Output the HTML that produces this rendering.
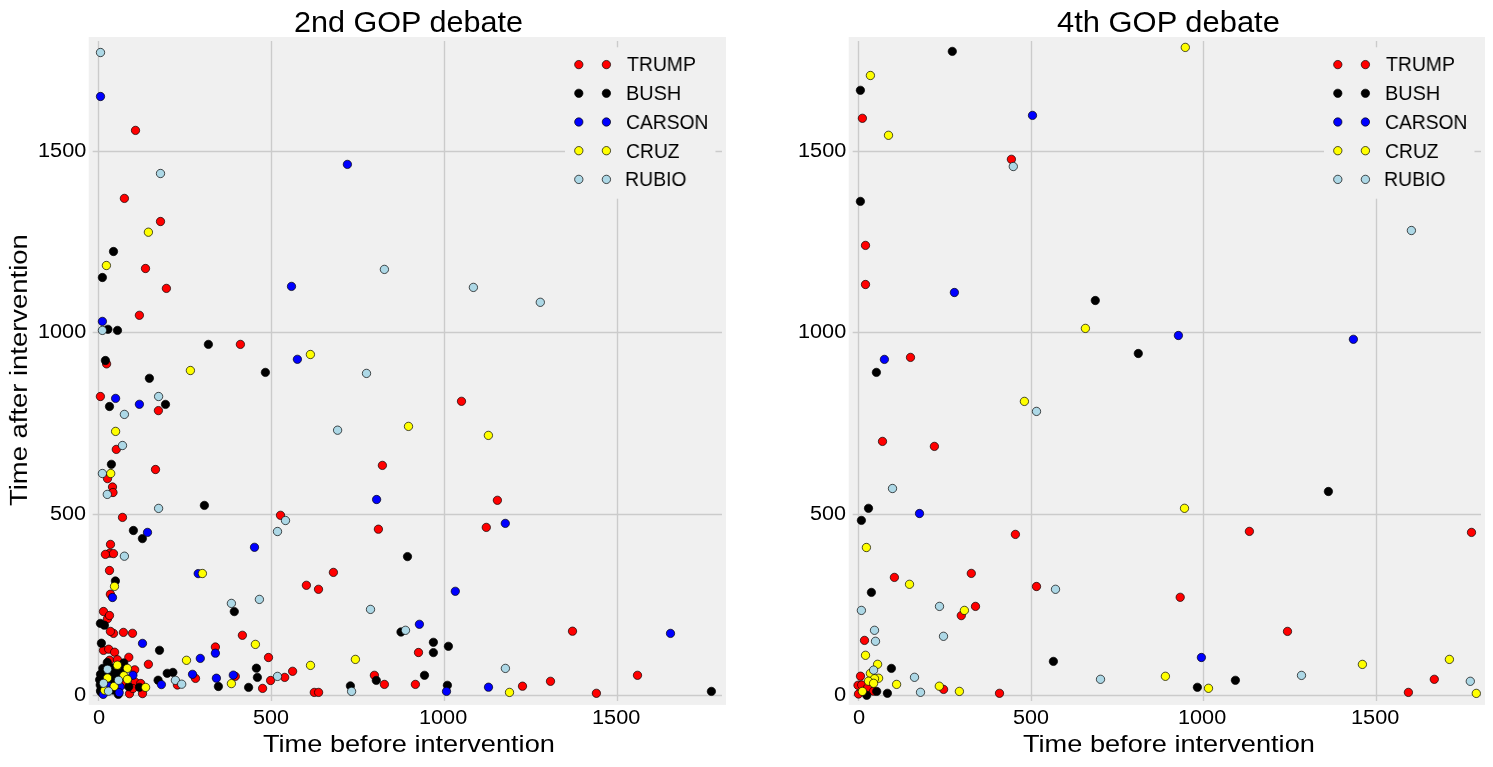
<!DOCTYPE html>
<html lang="en"><head><meta charset="utf-8"><title>GOP debates</title>
<style>
html,body{margin:0;padding:0;background:#fff;}
body{width:1493px;height:767px;position:relative;overflow:hidden;font-family:"Liberation Sans",sans-serif;color:#000;}
.t{position:absolute;white-space:nowrap;line-height:1;margin:0;padding:0;transform-origin:0 0;will-change:transform;}
</style></head><body>
<svg width="1493" height="767" viewBox="0 0 1493 767" style="position:absolute;left:0;top:0">
<rect x="88.7" y="37.0" width="637.3" height="667.9" fill="#f0f0f0"/>
<g stroke="#cbcbcb" stroke-width="1.39" fill="none">
<line x1="98.5" y1="41.0" x2="98.5" y2="700.9"/>
<line x1="271.5" y1="41.0" x2="271.5" y2="700.9"/>
<line x1="444.5" y1="41.0" x2="444.5" y2="700.9"/>
<line x1="617.5" y1="41.0" x2="617.5" y2="700.9"/>
<line x1="92.7" y1="695.5" x2="722" y2="695.5"/>
<line x1="92.7" y1="514.5" x2="722" y2="514.5"/>
<line x1="92.7" y1="332.5" x2="722" y2="332.5"/>
<line x1="92.7" y1="151.5" x2="722" y2="151.5"/>
</g>
<g fill="#ff0000" stroke="#000" stroke-width="0.69">
<circle cx="135.5" cy="130.4" r="4.17"/><circle cx="124.4" cy="198.4" r="4.17"/><circle cx="160.5" cy="221.5" r="4.17"/><circle cx="145.5" cy="268.5" r="4.17"/><circle cx="166.4" cy="288.4" r="4.17"/><circle cx="139.4" cy="315.3" r="4.17"/><circle cx="240.4" cy="344.4" r="4.17"/><circle cx="106.6" cy="363.9" r="4.17"/><circle cx="100.4" cy="396.5" r="4.17"/><circle cx="158.4" cy="410.6" r="4.17"/><circle cx="116.3" cy="449.4" r="4.17"/><circle cx="155.5" cy="469.5" r="4.17"/><circle cx="107.5" cy="478.6" r="4.17"/><circle cx="112.5" cy="487" r="4.17"/><circle cx="113" cy="492.5" r="4.17"/><circle cx="122.5" cy="517.4" r="4.17"/><circle cx="280.5" cy="515.3" r="4.17"/><circle cx="110.5" cy="544.4" r="4.17"/><circle cx="109.7" cy="553.2" r="4.17"/><circle cx="105.4" cy="554.4" r="4.17"/><circle cx="113.5" cy="553.6" r="4.17"/><circle cx="109.5" cy="570.5" r="4.17"/><circle cx="110.4" cy="594.2" r="4.17"/><circle cx="103.5" cy="611.5" r="4.17"/><circle cx="107.5" cy="618.8" r="4.17"/><circle cx="109.5" cy="615.5" r="4.17"/><circle cx="113.5" cy="633.4" r="4.17"/><circle cx="110.4" cy="631.4" r="4.17"/><circle cx="123.4" cy="632.4" r="4.17"/><circle cx="132.5" cy="633.3" r="4.17"/><circle cx="242.4" cy="635.3" r="4.17"/><circle cx="215.4" cy="647" r="4.17"/><circle cx="461.5" cy="401.3" r="4.17"/><circle cx="382.4" cy="465.4" r="4.17"/><circle cx="497.4" cy="500.3" r="4.17"/><circle cx="378.4" cy="529.2" r="4.17"/><circle cx="486.3" cy="527.4" r="4.17"/><circle cx="333.4" cy="572.4" r="4.17"/><circle cx="306.4" cy="585.3" r="4.17"/><circle cx="318.5" cy="589.3" r="4.17"/><circle cx="572.5" cy="631.2" r="4.17"/><circle cx="268.5" cy="657.5" r="4.17"/><circle cx="128.8" cy="657.3" r="4.17"/><circle cx="148.4" cy="664.3" r="4.17"/><circle cx="292.6" cy="671.3" r="4.17"/><circle cx="284.7" cy="677.4" r="4.17"/><circle cx="270.6" cy="680.5" r="4.17"/><circle cx="262.6" cy="688.4" r="4.17"/><circle cx="235.3" cy="676.4" r="4.17"/><circle cx="195.5" cy="678.4" r="4.17"/><circle cx="177.4" cy="685" r="4.17"/><circle cx="142.5" cy="693.6" r="4.17"/><circle cx="129.5" cy="693.7" r="4.17"/><circle cx="418.5" cy="652.5" r="4.17"/><circle cx="374.4" cy="675.3" r="4.17"/><circle cx="384.4" cy="684.4" r="4.17"/><circle cx="415.4" cy="684.4" r="4.17"/><circle cx="314.3" cy="692.4" r="4.17"/><circle cx="318.6" cy="692.4" r="4.17"/><circle cx="637.5" cy="675.3" r="4.17"/><circle cx="550.5" cy="681.3" r="4.17"/><circle cx="522.5" cy="686.2" r="4.17"/><circle cx="596.4" cy="693.3" r="4.17"/><circle cx="103.5" cy="650.4" r="4.17"/><circle cx="108.7" cy="649.2" r="4.17"/><circle cx="114.6" cy="652.2" r="4.17"/><circle cx="109.6" cy="660.2" r="4.17"/><circle cx="117.4" cy="659.7" r="4.17"/><circle cx="134.7" cy="669.8" r="4.17"/><circle cx="135.2" cy="682.1" r="4.17"/><circle cx="132.9" cy="688.5" r="4.17"/><circle cx="140.7" cy="683.5" r="4.17"/><circle cx="123.8" cy="684" r="4.17"/><circle cx="113.3" cy="673.4" r="4.17"/>
</g>
<g fill="#000000" stroke="#000" stroke-width="0.69">
<circle cx="113.5" cy="251.5" r="4.17"/><circle cx="102.4" cy="277.5" r="4.17"/><circle cx="107.9" cy="329.3" r="4.17"/><circle cx="117.5" cy="330.4" r="4.17"/><circle cx="208.4" cy="344.4" r="4.17"/><circle cx="105.4" cy="360.5" r="4.17"/><circle cx="265.4" cy="372.4" r="4.17"/><circle cx="149.4" cy="378.3" r="4.17"/><circle cx="109.5" cy="406.5" r="4.17"/><circle cx="165.5" cy="404.4" r="4.17"/><circle cx="111.4" cy="464.3" r="4.17"/><circle cx="204.4" cy="505.4" r="4.17"/><circle cx="133.4" cy="530.5" r="4.17"/><circle cx="142.4" cy="538.6" r="4.17"/><circle cx="115.4" cy="581" r="4.17"/><circle cx="234.3" cy="611.6" r="4.17"/><circle cx="100.4" cy="623.4" r="4.17"/><circle cx="104.4" cy="625.2" r="4.17"/><circle cx="101.4" cy="643.2" r="4.17"/><circle cx="159.5" cy="650.3" r="4.17"/><circle cx="256.4" cy="668.2" r="4.17"/><circle cx="257.4" cy="677.4" r="4.17"/><circle cx="248.6" cy="687.4" r="4.17"/><circle cx="218.4" cy="686.5" r="4.17"/><circle cx="167.2" cy="673.3" r="4.17"/><circle cx="172.9" cy="672.4" r="4.17"/><circle cx="158.1" cy="680.2" r="4.17"/><circle cx="139.4" cy="687.3" r="4.17"/><circle cx="407.5" cy="556.6" r="4.17"/><circle cx="401" cy="632" r="4.17"/><circle cx="433.4" cy="642.3" r="4.17"/><circle cx="448.4" cy="646.3" r="4.17"/><circle cx="433.4" cy="652.6" r="4.17"/><circle cx="376.3" cy="680.4" r="4.17"/><circle cx="424.5" cy="675.3" r="4.17"/><circle cx="350.4" cy="685.9" r="4.17"/><circle cx="447.4" cy="685.3" r="4.17"/><circle cx="711.4" cy="691.4" r="4.17"/><circle cx="107.3" cy="662.5" r="4.17"/><circle cx="123.8" cy="662.9" r="4.17"/><circle cx="102.8" cy="668.4" r="4.17"/><circle cx="100.5" cy="674.3" r="4.17"/><circle cx="118.3" cy="672.5" r="4.17"/><circle cx="99.6" cy="679.8" r="4.17"/><circle cx="128.8" cy="686.7" r="4.17"/><circle cx="118.3" cy="694.4" r="4.17"/><circle cx="100.5" cy="690.8" r="4.17"/><circle cx="101.9" cy="687.1" r="4.17"/><circle cx="111.9" cy="675.2" r="4.17"/><circle cx="104" cy="672" r="4.17"/><circle cx="108" cy="682" r="4.17"/><circle cx="113" cy="690" r="4.17"/><circle cx="112" cy="668" r="4.17"/><circle cx="100.2" cy="685" r="4.17"/><circle cx="101" cy="692" r="4.17"/><circle cx="113" cy="681" r="4.17"/><circle cx="122" cy="668.5" r="4.17"/><circle cx="110" cy="672" r="4.17"/><circle cx="116" cy="677" r="4.17"/>
</g>
<g fill="#0000ff" stroke="#000" stroke-width="0.69">
<circle cx="100.5" cy="96.5" r="4.17"/><circle cx="291.5" cy="286.4" r="4.17"/><circle cx="102.4" cy="321.4" r="4.17"/><circle cx="297.4" cy="359.3" r="4.17"/><circle cx="115.6" cy="398.4" r="4.17"/><circle cx="139.4" cy="404.3" r="4.17"/><circle cx="147.5" cy="532.4" r="4.17"/><circle cx="254.5" cy="547.3" r="4.17"/><circle cx="198.2" cy="573.6" r="4.17"/><circle cx="112.5" cy="597.5" r="4.17"/><circle cx="142.5" cy="643.4" r="4.17"/><circle cx="215.4" cy="653.2" r="4.17"/><circle cx="200.3" cy="658.4" r="4.17"/><circle cx="233.3" cy="675.1" r="4.17"/><circle cx="216.4" cy="678.2" r="4.17"/><circle cx="192.5" cy="674.3" r="4.17"/><circle cx="161.4" cy="684.6" r="4.17"/><circle cx="347.4" cy="164.4" r="4.17"/><circle cx="376.6" cy="499.5" r="4.17"/><circle cx="505.3" cy="523.4" r="4.17"/><circle cx="455.3" cy="591.3" r="4.17"/><circle cx="419.4" cy="624.3" r="4.17"/><circle cx="446.5" cy="691.4" r="4.17"/><circle cx="488.5" cy="687.2" r="4.17"/><circle cx="670.5" cy="633.4" r="4.17"/><circle cx="132.9" cy="675.2" r="4.17"/><circle cx="120.1" cy="686.7" r="4.17"/><circle cx="119.2" cy="692.6" r="4.17"/><circle cx="103.2" cy="694.4" r="4.17"/><circle cx="108.3" cy="686.2" r="4.17"/>
</g>
<g fill="#ffff00" stroke="#000" stroke-width="0.69">
<circle cx="148.4" cy="232.2" r="4.17"/><circle cx="106.4" cy="265.5" r="4.17"/><circle cx="190.4" cy="370.5" r="4.17"/><circle cx="115.6" cy="431.4" r="4.17"/><circle cx="110.7" cy="473.5" r="4.17"/><circle cx="202.4" cy="573.5" r="4.17"/><circle cx="114.5" cy="586.4" r="4.17"/><circle cx="255.4" cy="644.4" r="4.17"/><circle cx="186.5" cy="660.3" r="4.17"/><circle cx="231.4" cy="683.6" r="4.17"/><circle cx="145.6" cy="687.4" r="4.17"/><circle cx="310.4" cy="354.5" r="4.17"/><circle cx="408.5" cy="426.4" r="4.17"/><circle cx="488.4" cy="435.4" r="4.17"/><circle cx="355.4" cy="659.4" r="4.17"/><circle cx="310.5" cy="665.4" r="4.17"/><circle cx="509.5" cy="692.4" r="4.17"/><circle cx="117.4" cy="665.2" r="4.17"/><circle cx="127.4" cy="668.4" r="4.17"/><circle cx="123.8" cy="675.7" r="4.17"/><circle cx="127.4" cy="679.4" r="4.17"/><circle cx="107.5" cy="678" r="4.17"/><circle cx="114.2" cy="686.4" r="4.17"/><circle cx="104.6" cy="690.3" r="4.17"/>
</g>
<g fill="#add8e6" stroke="#000" stroke-width="0.69">
<circle cx="100.5" cy="52.5" r="4.17"/><circle cx="160.5" cy="173.5" r="4.17"/><circle cx="102.4" cy="330.4" r="4.17"/><circle cx="158.6" cy="396.5" r="4.17"/><circle cx="124.4" cy="414.4" r="4.17"/><circle cx="122.5" cy="445.5" r="4.17"/><circle cx="102.4" cy="473.5" r="4.17"/><circle cx="107.3" cy="494.4" r="4.17"/><circle cx="158.6" cy="508.4" r="4.17"/><circle cx="285.5" cy="520.5" r="4.17"/><circle cx="277.5" cy="531.5" r="4.17"/><circle cx="124.4" cy="556.2" r="4.17"/><circle cx="259.4" cy="599.4" r="4.17"/><circle cx="231.4" cy="603.4" r="4.17"/><circle cx="277.5" cy="676.4" r="4.17"/><circle cx="175.4" cy="680.3" r="4.17"/><circle cx="181.7" cy="684.2" r="4.17"/><circle cx="384.4" cy="269.4" r="4.17"/><circle cx="473.4" cy="287.4" r="4.17"/><circle cx="540.3" cy="302.3" r="4.17"/><circle cx="366.5" cy="373.4" r="4.17"/><circle cx="337.6" cy="430.2" r="4.17"/><circle cx="370.5" cy="609.4" r="4.17"/><circle cx="405.5" cy="630.3" r="4.17"/><circle cx="505.4" cy="668.4" r="4.17"/><circle cx="351.6" cy="691.4" r="4.17"/><circle cx="107.5" cy="669.3" r="4.17"/><circle cx="118.5" cy="680.3" r="4.17"/><circle cx="103.5" cy="683.3" r="4.17"/><circle cx="108.5" cy="691.2" r="4.17"/>
</g>
<rect x="565" y="47.3" width="150.5" height="151.4" fill="#f0f0f0"/>
<g fill="#ff0000" stroke="#000" stroke-width="0.69"><circle cx="578.8" cy="64.6" r="4.17"/><circle cx="606.4" cy="64.6" r="4.17"/></g>
<g fill="#000000" stroke="#000" stroke-width="0.69"><circle cx="578.8" cy="93.3" r="4.17"/><circle cx="606.4" cy="93.3" r="4.17"/></g>
<g fill="#0000ff" stroke="#000" stroke-width="0.69"><circle cx="578.8" cy="122.0" r="4.17"/><circle cx="606.4" cy="122.0" r="4.17"/></g>
<g fill="#ffff00" stroke="#000" stroke-width="0.69"><circle cx="578.8" cy="150.7" r="4.17"/><circle cx="606.4" cy="150.7" r="4.17"/></g>
<g fill="#add8e6" stroke="#000" stroke-width="0.69"><circle cx="578.8" cy="179.39999999999998" r="4.17"/><circle cx="606.4" cy="179.39999999999998" r="4.17"/></g>
<rect x="848.7" y="37.0" width="636.3" height="667.9" fill="#f0f0f0"/>
<g stroke="#cbcbcb" stroke-width="1.39" fill="none">
<line x1="858.5" y1="41.0" x2="858.5" y2="700.9"/>
<line x1="1031.5" y1="41.0" x2="1031.5" y2="700.9"/>
<line x1="1203.5" y1="41.0" x2="1203.5" y2="700.9"/>
<line x1="1376.5" y1="41.0" x2="1376.5" y2="700.9"/>
<line x1="852.7" y1="695.5" x2="1481" y2="695.5"/>
<line x1="852.7" y1="514.5" x2="1481" y2="514.5"/>
<line x1="852.7" y1="332.5" x2="1481" y2="332.5"/>
<line x1="852.7" y1="151.5" x2="1481" y2="151.5"/>
</g>
<g fill="#ff0000" stroke="#000" stroke-width="0.69">
<circle cx="862.4" cy="118.3" r="4.17"/><circle cx="1011.4" cy="159.3" r="4.17"/><circle cx="865.5" cy="245.4" r="4.17"/><circle cx="865.5" cy="284.5" r="4.17"/><circle cx="910.5" cy="357.4" r="4.17"/><circle cx="882.5" cy="441.4" r="4.17"/><circle cx="934.4" cy="446.4" r="4.17"/><circle cx="1015.4" cy="534.4" r="4.17"/><circle cx="971.3" cy="573.4" r="4.17"/><circle cx="894.4" cy="577.4" r="4.17"/><circle cx="1036.5" cy="586.5" r="4.17"/><circle cx="975.5" cy="606.4" r="4.17"/><circle cx="961.3" cy="615.6" r="4.17"/><circle cx="864.5" cy="640.4" r="4.17"/><circle cx="943.6" cy="689.4" r="4.17"/><circle cx="999.5" cy="693.3" r="4.17"/><circle cx="1249.4" cy="531.4" r="4.17"/><circle cx="1180.2" cy="597.3" r="4.17"/><circle cx="1287.5" cy="631.4" r="4.17"/><circle cx="1471.5" cy="532.4" r="4.17"/><circle cx="1434.3" cy="679.3" r="4.17"/><circle cx="1408.4" cy="692.4" r="4.17"/><circle cx="860.5" cy="676.2" r="4.17"/><circle cx="858" cy="685.3" r="4.17"/><circle cx="861.7" cy="685" r="4.17"/><circle cx="867.6" cy="687.6" r="4.17"/><circle cx="873.6" cy="691.2" r="4.17"/><circle cx="858.5" cy="694" r="4.17"/>
</g>
<g fill="#000000" stroke="#000" stroke-width="0.69">
<circle cx="952.3" cy="51.4" r="4.17"/><circle cx="860.4" cy="90.3" r="4.17"/><circle cx="860.4" cy="201.4" r="4.17"/><circle cx="876.4" cy="372.4" r="4.17"/><circle cx="868.5" cy="508.3" r="4.17"/><circle cx="861.4" cy="520.4" r="4.17"/><circle cx="871.4" cy="592.4" r="4.17"/><circle cx="891.4" cy="668.4" r="4.17"/><circle cx="1053.4" cy="661.4" r="4.17"/><circle cx="1095.3" cy="300.5" r="4.17"/><circle cx="1138.3" cy="353.5" r="4.17"/><circle cx="1328.4" cy="491.5" r="4.17"/><circle cx="1197.4" cy="687.3" r="4.17"/><circle cx="1235.4" cy="680.3" r="4.17"/><circle cx="876.7" cy="691.4" r="4.17"/><circle cx="866.7" cy="695.3" r="4.17"/><circle cx="887.4" cy="693.3" r="4.17"/>
</g>
<g fill="#0000ff" stroke="#000" stroke-width="0.69">
<circle cx="1032.5" cy="115.4" r="4.17"/><circle cx="954.4" cy="292.5" r="4.17"/><circle cx="884.4" cy="359.4" r="4.17"/><circle cx="919.5" cy="513.5" r="4.17"/><circle cx="1178.4" cy="335.5" r="4.17"/><circle cx="1353.4" cy="339.3" r="4.17"/><circle cx="1201.4" cy="657.5" r="4.17"/>
</g>
<g fill="#ffff00" stroke="#000" stroke-width="0.69">
<circle cx="870.4" cy="75.5" r="4.17"/><circle cx="888.5" cy="135.3" r="4.17"/><circle cx="1024.4" cy="401.4" r="4.17"/><circle cx="866.4" cy="547.5" r="4.17"/><circle cx="909.5" cy="584.3" r="4.17"/><circle cx="964.4" cy="610.4" r="4.17"/><circle cx="865.5" cy="655.3" r="4.17"/><circle cx="877.6" cy="664.3" r="4.17"/><circle cx="870.4" cy="673.4" r="4.17"/><circle cx="878.6" cy="678.2" r="4.17"/><circle cx="874.5" cy="678.7" r="4.17"/><circle cx="868.5" cy="681.2" r="4.17"/><circle cx="873.6" cy="683.3" r="4.17"/><circle cx="896.6" cy="684.4" r="4.17"/><circle cx="862.4" cy="691.4" r="4.17"/><circle cx="939.3" cy="686.2" r="4.17"/><circle cx="959.4" cy="691.4" r="4.17"/><circle cx="1185.3" cy="47.4" r="4.17"/><circle cx="1085.4" cy="328.4" r="4.17"/><circle cx="1184.5" cy="508.3" r="4.17"/><circle cx="1165.4" cy="676.3" r="4.17"/><circle cx="1208.5" cy="688.3" r="4.17"/><circle cx="1362.4" cy="664.4" r="4.17"/><circle cx="1449.4" cy="659.4" r="4.17"/><circle cx="1476.3" cy="693.4" r="4.17"/>
</g>
<g fill="#add8e6" stroke="#000" stroke-width="0.69">
<circle cx="1013.3" cy="166.5" r="4.17"/><circle cx="1036.5" cy="411.4" r="4.17"/><circle cx="892.5" cy="488.5" r="4.17"/><circle cx="1055.5" cy="589.3" r="4.17"/><circle cx="939.5" cy="606.4" r="4.17"/><circle cx="861.4" cy="610.4" r="4.17"/><circle cx="874.5" cy="630.3" r="4.17"/><circle cx="943.5" cy="636.3" r="4.17"/><circle cx="875.5" cy="641.3" r="4.17"/><circle cx="873.6" cy="670.1" r="4.17"/><circle cx="914.5" cy="677.3" r="4.17"/><circle cx="920.5" cy="692.3" r="4.17"/><circle cx="1100.5" cy="679.3" r="4.17"/><circle cx="1301.5" cy="675.4" r="4.17"/><circle cx="1411.4" cy="230.5" r="4.17"/><circle cx="1470.3" cy="681.3" r="4.17"/>
</g>
<rect x="1324" y="47.3" width="150.5" height="151.4" fill="#f0f0f0"/>
<g fill="#ff0000" stroke="#000" stroke-width="0.69"><circle cx="1337.8" cy="64.6" r="4.17"/><circle cx="1365.4" cy="64.6" r="4.17"/></g>
<g fill="#000000" stroke="#000" stroke-width="0.69"><circle cx="1337.8" cy="93.3" r="4.17"/><circle cx="1365.4" cy="93.3" r="4.17"/></g>
<g fill="#0000ff" stroke="#000" stroke-width="0.69"><circle cx="1337.8" cy="122.0" r="4.17"/><circle cx="1365.4" cy="122.0" r="4.17"/></g>
<g fill="#ffff00" stroke="#000" stroke-width="0.69"><circle cx="1337.8" cy="150.7" r="4.17"/><circle cx="1365.4" cy="150.7" r="4.17"/></g>
<g fill="#add8e6" stroke="#000" stroke-width="0.69"><circle cx="1337.8" cy="179.39999999999998" r="4.17"/><circle cx="1365.4" cy="179.39999999999998" r="4.17"/></g>
</svg>
<div class="t" style="left:294.00px;top:7.00px;font-size:30px;transform:scale(1.0192,1.0091)">2nd GOP debate</div>
<div class="t" style="left:627.00px;top:54.00px;font-size:20px;transform:scale(0.9698,1.0143)">TRUMP</div>
<div class="t" style="left:626.00px;top:83.00px;font-size:20px;transform:scale(0.9952,0.9965)">BUSH</div>
<div class="t" style="left:626.00px;top:112.00px;font-size:20px;transform:scale(0.9639,0.9965)">CARSON</div>
<div class="t" style="left:626.00px;top:141.00px;font-size:20px;transform:scale(0.9630,0.9965)">CRUZ</div>
<div class="t" style="left:625.00px;top:169.00px;font-size:20px;transform:scale(0.9712,0.9965)">RUBIO</div>
<div class="t" style="left:93.00px;top:707.00px;font-size:20px;transform:scale(1.0947,1.0035)">0</div>
<div class="t" style="left:253.00px;top:707.00px;font-size:20px;transform:scale(1.0772,1.0035)">500</div>
<div class="t" style="left:419.00px;top:707.00px;font-size:20px;transform:scale(1.0840,1.0035)">1000</div>
<div class="t" style="left:592.00px;top:707.00px;font-size:20px;transform:scale(1.0864,1.0035)">1500</div>
<div class="t" style="left:74.00px;top:684.00px;font-size:20px;transform:scale(1.0947,1.0035)">0</div>
<div class="t" style="left:50.00px;top:503.00px;font-size:20px;transform:scale(1.0772,1.0035)">500</div>
<div class="t" style="left:38.00px;top:321.00px;font-size:20px;transform:scale(1.0840,1.0035)">1000</div>
<div class="t" style="left:38.00px;top:140.00px;font-size:20px;transform:scale(1.0864,1.0035)">1500</div>
<div class="t" style="left:263.00px;top:731.00px;font-size:24px;transform:scale(1.1316,1.0286)">Time before intervention</div>
<div class="t" style="left:1057.00px;top:7.00px;font-size:30px;transform:scale(1.0306,1.0091)">4th GOP debate</div>
<div class="t" style="left:1386.00px;top:54.00px;font-size:20px;transform:scale(0.9698,1.0143)">TRUMP</div>
<div class="t" style="left:1385.00px;top:83.00px;font-size:20px;transform:scale(0.9952,0.9965)">BUSH</div>
<div class="t" style="left:1385.00px;top:112.00px;font-size:20px;transform:scale(0.9639,0.9965)">CARSON</div>
<div class="t" style="left:1385.00px;top:141.00px;font-size:20px;transform:scale(0.9630,0.9965)">CRUZ</div>
<div class="t" style="left:1384.00px;top:169.00px;font-size:20px;transform:scale(0.9712,0.9965)">RUBIO</div>
<div class="t" style="left:853.00px;top:707.00px;font-size:20px;transform:scale(1.0947,1.0035)">0</div>
<div class="t" style="left:1013.00px;top:707.00px;font-size:20px;transform:scale(1.0772,1.0035)">500</div>
<div class="t" style="left:1178.00px;top:707.00px;font-size:20px;transform:scale(1.0840,1.0035)">1000</div>
<div class="t" style="left:1351.00px;top:707.00px;font-size:20px;transform:scale(1.0864,1.0035)">1500</div>
<div class="t" style="left:834.00px;top:684.00px;font-size:20px;transform:scale(1.0947,1.0035)">0</div>
<div class="t" style="left:810.00px;top:503.00px;font-size:20px;transform:scale(1.0772,1.0035)">500</div>
<div class="t" style="left:798.00px;top:321.00px;font-size:20px;transform:scale(1.0840,1.0035)">1000</div>
<div class="t" style="left:798.00px;top:140.00px;font-size:20px;transform:scale(1.0864,1.0035)">1500</div>
<div class="t" style="left:1023.00px;top:731.00px;font-size:24px;transform:scale(1.1316,1.0286)">Time before intervention</div>
<div style="position:absolute;left:9.1px;top:505.7px;width:0;height:0;transform:rotate(-90deg);transform-origin:0 0"><div class="t" style="left:0.00px;top:-3.00px;font-size:24px;transform:scale(1.1423,1.0343)">Time after intervention</div></div>
</body></html>
